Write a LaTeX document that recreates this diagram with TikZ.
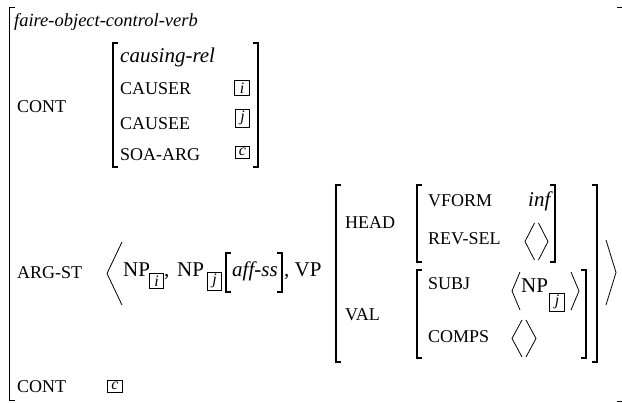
\documentclass[tikz,border=0pt]{standalone}
\usepackage{fontspec}
\setmainfont{Liberation Serif}
\newcommand\avmlb[3]{\draw[brk] (#1+5,#2) -- (#1,#2) -- (#1,#3) -- (#1+5,#3);}
\newcommand\avmrb[3]{\draw[brk] (#1-5,#2) -- (#1,#2) -- (#1,#3) -- (#1-5,#3);}
\newcommand\avmla[4]{\draw[ang] (#2,#3) -- (#1,{(#3+#4)/2}) -- (#2,#4);}
\begin{document}
\begin{tikzpicture}[x=1pt,y=-1pt,
  lbl/.style={anchor=base west, inner sep=0pt, font=\fontsize{18}{20}\selectfont},
  txt/.style={anchor=base west, inner sep=0pt, font=\fontsize{21}{24}\selectfont},
  ittxt/.style={anchor=base west, inner sep=0pt, font=\fontsize{21}{24}\selectfont\itshape},
  tag/.style={draw, line width=0.6pt, inner xsep=0pt, inner ysep=2pt, minimum width=14.5pt,
    font=\fontsize{16}{18}\selectfont\itshape},
  brk/.style={line width=1.1pt},
  ang/.style={line width=0.8pt}]
\useasboundingbox (0,0) rectangle (622,403);

% outer brackets
\avmlb{9.5}{7.5}{400.5}
\draw[brk] (617,7.5) -- (622.5,7.5);
\draw[brk] (617,401.5) -- (622.5,401.5);

\node[anchor=base west, inner sep=0pt, font=\fontsize{18.5}{21}\selectfont\itshape] (type) at (14,27) {faire-object-control-verb};

% CONT row
\node[lbl] (cont1) at (17,113) {CONT};
\avmlb{113}{43}{167}
\avmrb{258}{43}{167}
\node[ittxt] (crel) at (120,63) {causing-rel};
\node[lbl] (causer) at (120,95) {CAUSER};
\node[lbl] (causee) at (120,130) {CAUSEE};
\node[lbl] (soa) at (120,161) {SOA-ARG};
\node[tag] (ti) at (242,88) {i};
\node[tag] (tj) at (242.5,118) {j};
\node[tag] (tc) at (242.5,152) {c};

% ARG-ST row
\node[lbl] (argst) at (17,279) {ARG-ST};
\avmla{107}{122}{242}{305}
\node[txt] (np1) at (123,277) {NP};
\node[tag] (si) at (156.5,281) {i};
\node[txt] (c1) at (164,277) {,};
\node[txt] (np2) at (177,277) {NP};
\node[tag] (sj) at (214.5,281) {j};
\avmlb{226}{253}{292}
\node[ittxt] (aff) at (232,277) {aff-ss};
\avmrb{282}{253}{292}
\node[txt] (vp) at (284,277) {, VP};

% VP AVM
\avmlb{336}{185}{362}
\avmrb{597}{185}{362}
\node[lbl] (head) at (345,229) {HEAD};
\node[lbl] (val) at (345,321) {VAL};

\avmlb{417}{185}{262}
\avmrb{555}{185}{262}
\node[lbl] (vform) at (428,207) {VFORM};
\node[ittxt] (inf) at (528,207) {inf};
\node[lbl] (revsel) at (428,245) {REV-SEL};
\avmla{525}{534.5}{223}{260}
\avmla{548}{538.5}{223}{260}

\avmlb{417}{270}{358}
\avmrb{586}{270}{358}
\node[lbl] (subj) at (428,290) {SUBJ};
\avmla{512}{520}{272}{310}
\node[txt] (np3) at (521,293) {NP};
\node[tag] (sj2) at (557,302) {j};
\avmla{579}{571}{272}{310}
\node[lbl] (comps) at (428,343) {COMPS};
\avmla{512}{522}{320}{357}
\avmla{536}{526}{320}{357}

\avmla{616}{606}{240}{305}

% last CONT
\node[lbl] (cont2) at (17,393) {CONT};
\node[tag] (tc2) at (115,386) {c};
\end{tikzpicture}
\end{document}
